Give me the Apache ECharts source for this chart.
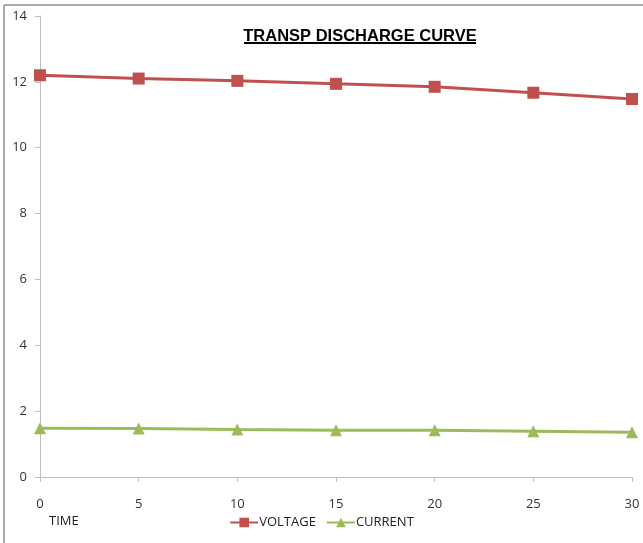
<!DOCTYPE html>
<html>
<head>
<meta charset="utf-8">
<script src="https://cdn.jsdelivr.net/npm/echarts@6/dist/echarts.min.js"></script>
<style>
  html, body { margin: 0; padding: 0; background: #fff; }
  #chart { width: 643px; height: 543px; }
</style>
</head>
<body>
<div id="chart"></div>
<script>
// Discharge test readings, sampled every 5 time units
const timePoints = [0, 5, 10, 15, 20, 25, 30];
const voltage = [12.2, 12.1, 12.03, 11.94, 11.85, 11.67, 11.48];
const current = [1.48, 1.47, 1.44, 1.42, 1.42, 1.39, 1.36];
const seriesNames = ['VOLTAGE', 'CURRENT'];

const pairs = (xs, ys) => xs.map((x, i) => [x, ys[i]]);

const labelFont = 'Open Sans';
const chart = echarts.init(document.getElementById('chart'));
chart.setOption({
  animation: false,
  backgroundColor: '#fff',
  title: {
    text: 'TRANSP DISCHARGE CURVE',
    left: 355, top: 23, textAlign: 'center',
    textStyle: { fontFamily: 'Liberation Sans', fontWeight: 'bold', fontSize: 16.5, color: '#000' }
  },
  grid: { left: 40, right: 11, top: 16, bottom: 66 },
  legend: {
    data: seriesNames,
    bottom: 9, left: 'center',
    itemWidth: 28, itemHeight: 12, itemGap: 10,
    textStyle: { fontFamily: labelFont, fontSize: 13, color: '#222', padding: [0, 0, 0, -4] }
  },
  xAxis: {
    type: 'value', min: 0, max: 30, interval: 5,
    axisLine: { lineStyle: { color: '#bfbfbf' } },
    axisTick: { show: true, length: 5, inside: false, lineStyle: { color: '#bfbfbf' } },
    axisLabel: { margin: 21, fontFamily: labelFont, fontSize: 13, color: '#333' },
    splitLine: { show: false }
  },
  yAxis: {
    type: 'value', min: 0, max: 14, interval: 2,
    axisLine: { show: true, lineStyle: { color: '#bfbfbf' } },
    axisTick: { show: true, length: 5, lineStyle: { color: '#bfbfbf' } },
    axisLabel: { margin: 13, fontFamily: labelFont, fontSize: 13, color: '#333' },
    splitLine: { show: false }
  },
  series: [
    {
      name: seriesNames[0], type: 'line', data: pairs(timePoints, voltage),
      symbol: 'rect', symbolSize: 12,
      lineStyle: { width: 3, color: '#C0504D' },
      itemStyle: { color: '#C0504D' }
    },
    {
      name: seriesNames[1], type: 'line', data: pairs(timePoints, current),
      symbol: 'triangle', symbolSize: 12,
      lineStyle: { width: 3, color: '#9BBB59' },
      itemStyle: { color: '#9BBB59' }
    }
  ],
  graphic: [
    { type: 'line', shape: { x1: 4, y1: 5, x2: 643, y2: 5 }, style: { stroke: '#8c8c8c', lineWidth: 1.5 } },
    { type: 'line', shape: { x1: 4, y1: 5, x2: 4, y2: 543 }, style: { stroke: '#8c8c8c', lineWidth: 1.5 } },
    { type: 'line', shape: { x1: 244, y1: 43, x2: 476, y2: 43 }, style: { stroke: '#000', lineWidth: 2 } },
    { type: 'text', left: 49, top: 515, style: { text: 'TIME', font: '13px "Open Sans"', fill: '#222' } }
  ]
});
</script>
</body>
</html>
